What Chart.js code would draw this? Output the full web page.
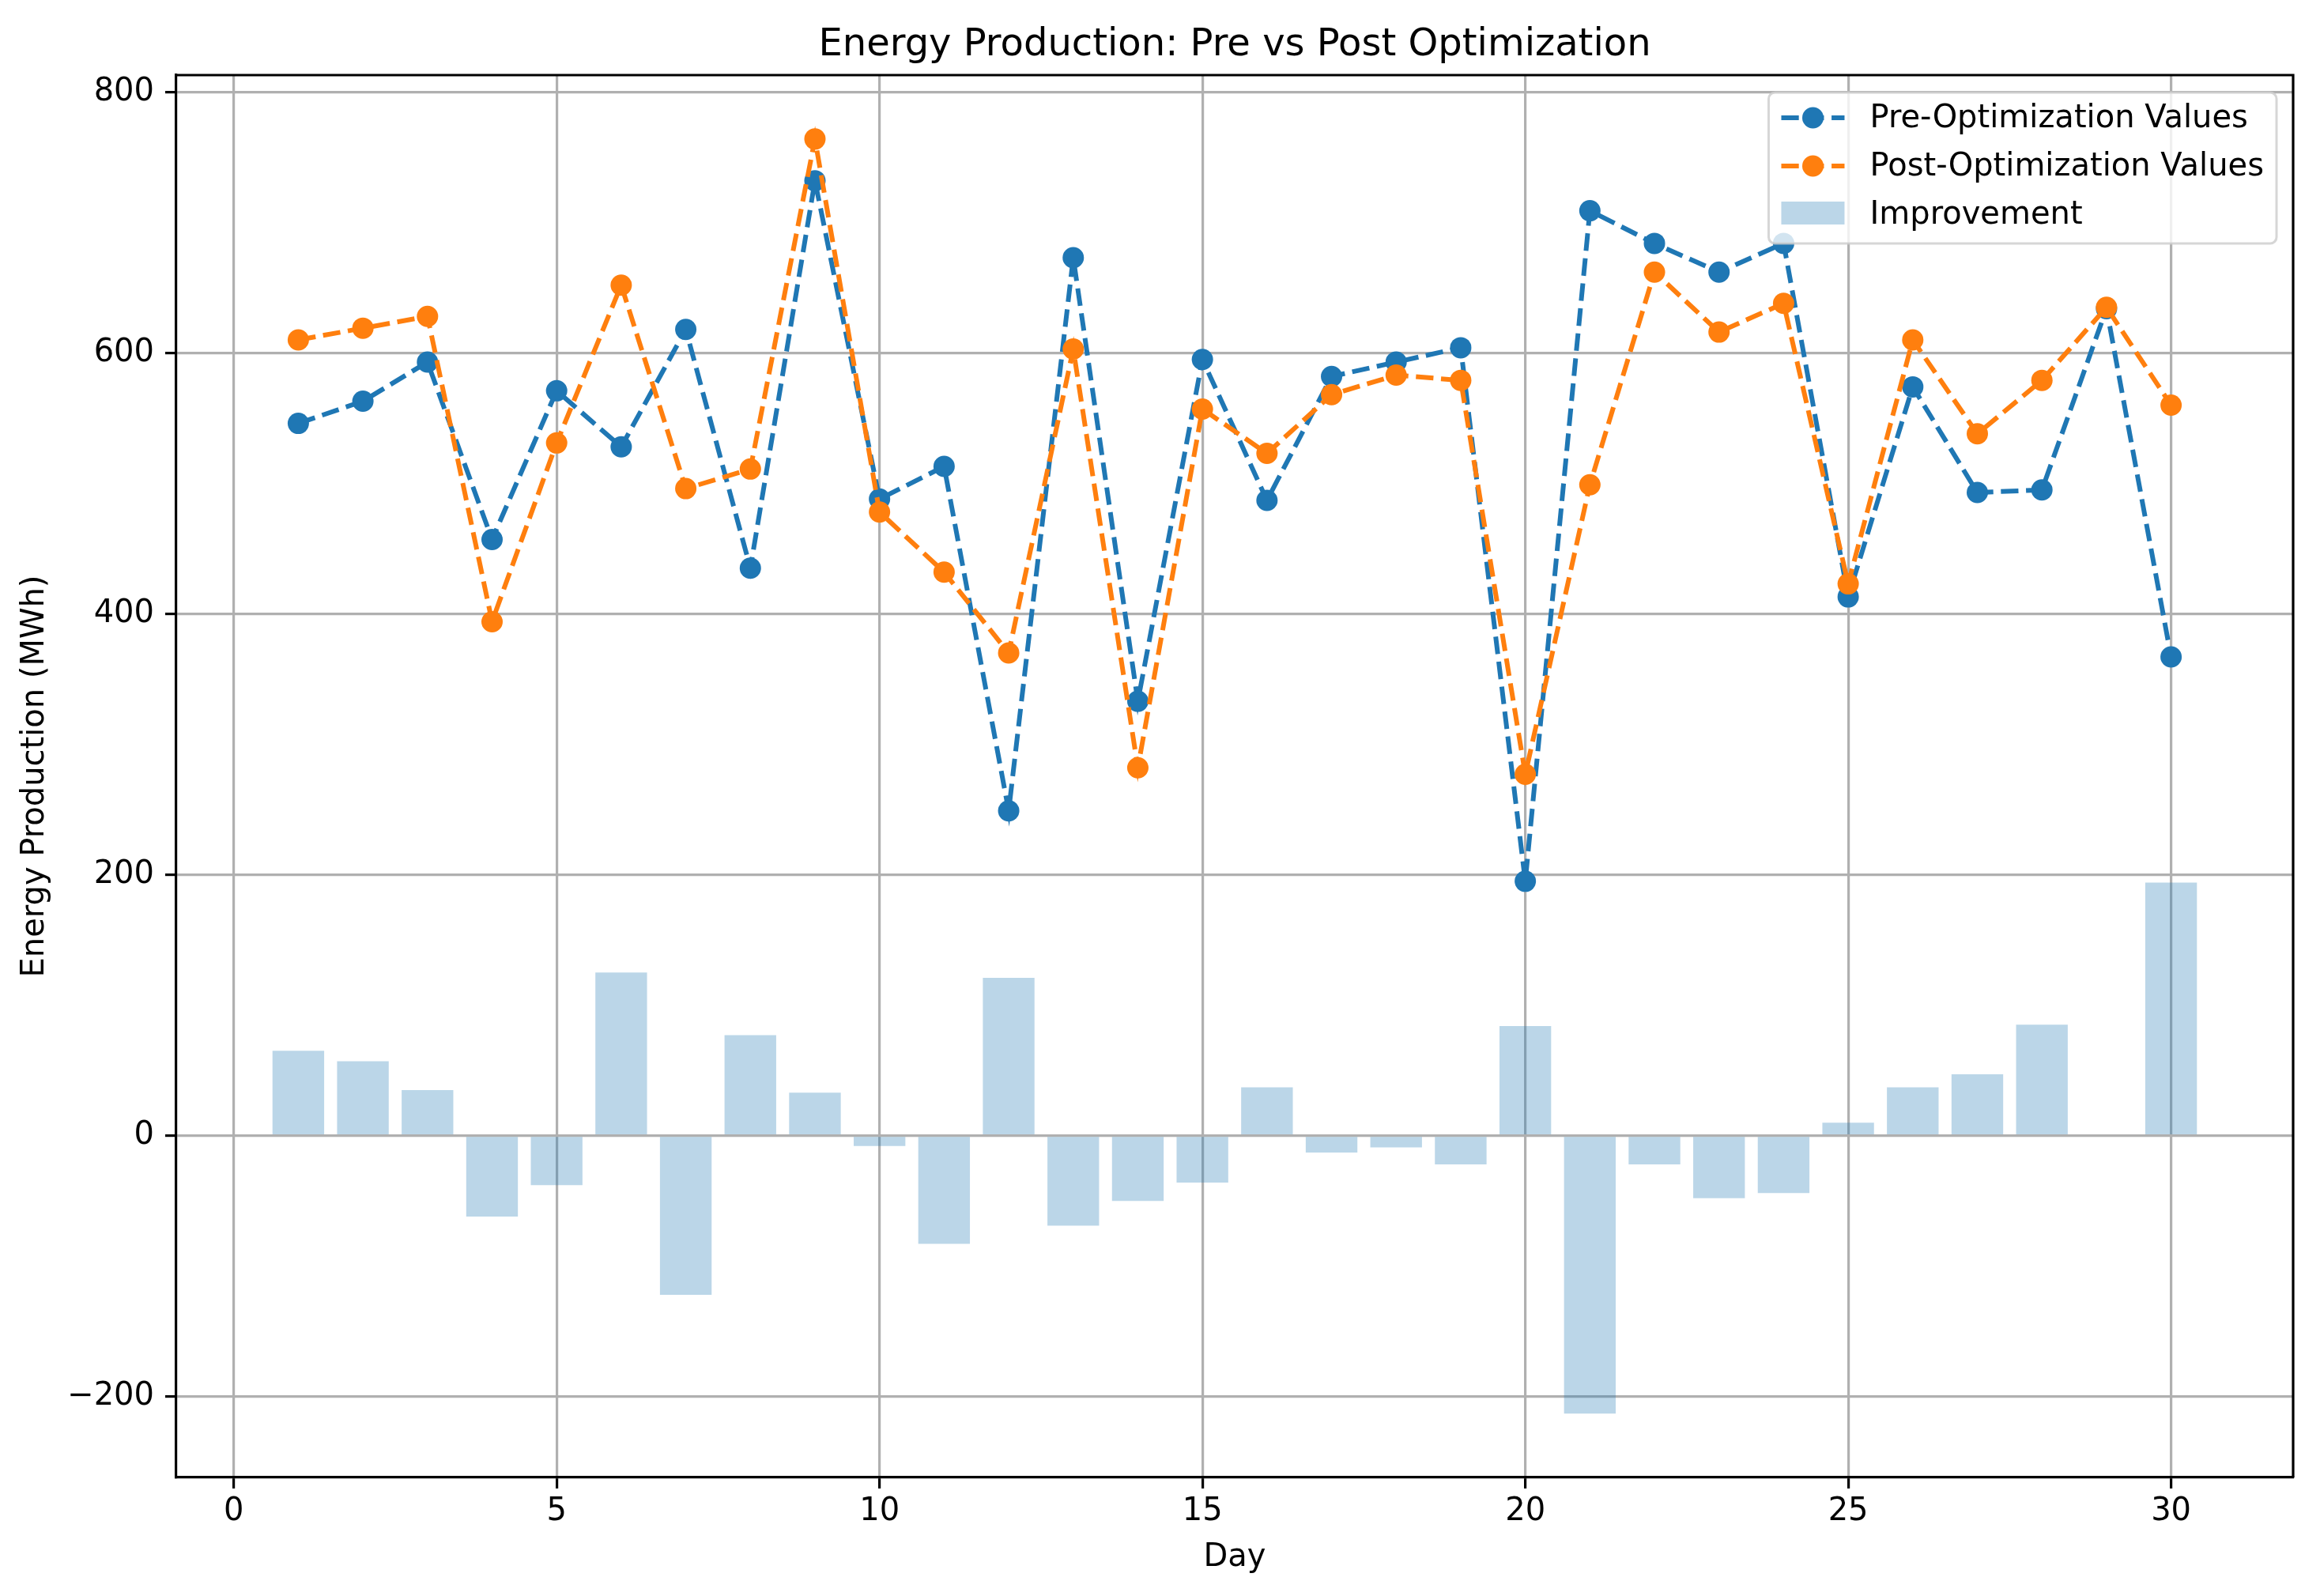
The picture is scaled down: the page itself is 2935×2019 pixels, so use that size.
<!DOCTYPE html>
<html>
<head>
<meta charset="utf-8">
<script src="https://cdn.jsdelivr.net/npm/chart.js@4.4.0/dist/chart.umd.min.js"></script>
<style>
html,body{margin:0;padding:0;background:#fff;}
canvas{display:block;}
</style>
</head>
<body>
<canvas id="c" width="2935" height="2019" style="width:2935px;height:2019px"></canvas>
<script>
// ---- data ----
const days = [1,2,3,4,5,6,7,8,9,10,11,12,13,14,15,16,17,18,19,20,21,22,23,24,25,26,27,28,29,30];
const preValues  = [546,563,593,457,571,528,618,435,732,488,513,249,673,333,595,487,582,593,604,195,709,684,662,684,413,574,493,495,634,367];
const postValues = [610,619,628,394,531,652,496,511,764,478,432,370,603,282,557,523,568,583,579,277,499,662,616,638,423,610,538,579,635,560];
const improvement = [65,57,35,-62,-38,125,-122,77,33,-8,-83,121,-69,-50,-36,37,-13,-9,-22,84,-213,-22,-48,-44,10,37,47,85,1,194];
const xTicks = [0,5,10,15,20,25,30];
const yTicks = [-200,0,200,400,600,800];
const chartTitle = 'Energy Production: Pre vs Post Optimization';
const xTitle = 'Day';
const yTitle = 'Energy Production (MWh)';
const seriesNames = ['Pre-Optimization Values','Post-Optimization Values','Improvement'];

// ---- styling ----
const FONT = "'DejaVu Sans', sans-serif";
const FS = 40;
const TFS = 48;
const BLUE = '#1f77b4', ORANGE = '#ff7f0e', BAR = 'rgba(31,119,180,0.3)';
const LW = 6, DASH = [22.2, 9.6], PR = 13.5;

Chart.defaults.font.family = FONT;
Chart.defaults.color = '#000';

const pts = (ys) => days.map((d, i) => ({x: d, y: ys[i]}));

const decorations = {
  id: 'decorations',
  afterDatasetsDraw(chart) {
    const {ctx, chartArea: a} = chart;
    ctx.save();
    // top & right spines
    ctx.strokeStyle = '#000';
    ctx.lineWidth = 3.2;
    ctx.beginPath();
    ctx.moveTo(a.left, a.top); ctx.lineTo(a.right, a.top); ctx.lineTo(a.right, a.bottom);
    ctx.stroke();

    // title centred over the plot area
    ctx.fillStyle = '#000';
    ctx.font = TFS + 'px ' + FONT;
    ctx.textAlign = 'center';
    ctx.textBaseline = 'alphabetic';
    ctx.fillText(chartTitle, (a.left + a.right) / 2, 70);

    // legend
    ctx.font = FS + 'px ' + FONT;
    const maxW = Math.max(...seriesNames.map(s => ctx.measureText(s).width));
    const pad = 16, hl = 80, tp = 32, rowGap = 61;
    const boxW = pad + hl + tp + maxW + pad;
    const boxH = 191;
    const bx = a.right - 21 - boxW, by = a.top + 22;
    ctx.fillStyle = 'rgba(255,255,255,0.8)';
    ctx.strokeStyle = 'rgba(204,204,204,0.8)';
    ctx.lineWidth = 3;
    ctx.beginPath();
    ctx.roundRect(bx, by, boxW, boxH, 8);
    ctx.fill(); ctx.stroke();

    const hx = bx + pad;
    const colors = [BLUE, ORANGE];
    for (let i = 0; i < 3; i++) {
      const cy = by + 32 + rowGap * i;
      if (i < 2) {
        ctx.strokeStyle = colors[i];
        ctx.lineWidth = LW;
        ctx.setLineDash(DASH);
        ctx.beginPath(); ctx.moveTo(hx, cy); ctx.lineTo(hx + hl, cy); ctx.stroke();
        ctx.setLineDash([]);
        ctx.fillStyle = colors[i];
        ctx.beginPath(); ctx.arc(hx + hl / 2, cy, PR, 0, Math.PI * 2); ctx.fill();
      } else {
        ctx.fillStyle = BAR;
        ctx.fillRect(hx, cy - 16, hl, 29);
      }
      ctx.fillStyle = '#000';
      ctx.textAlign = 'left';
      ctx.textBaseline = 'middle';
      ctx.fillText(seriesNames[i], hx + hl + tp, cy + 2);
    }
    ctx.restore();
  }
};

new Chart(document.getElementById('c'), {
  type: 'bar',
  data: {
    datasets: [
      {
        type: 'line', label: seriesNames[0], data: pts(preValues),
        borderColor: BLUE, backgroundColor: BLUE, borderWidth: LW, borderDash: DASH,
        pointRadius: PR, pointBackgroundColor: BLUE, pointBorderWidth: 0, pointHoverRadius: PR,
        tension: 0, fill: false, order: 2
      },
      {
        type: 'line', label: seriesNames[1], data: pts(postValues),
        borderColor: ORANGE, backgroundColor: ORANGE, borderWidth: LW, borderDash: DASH,
        pointRadius: PR, pointBackgroundColor: ORANGE, pointBorderWidth: 0, pointHoverRadius: PR,
        tension: 0, fill: false, order: 1
      },
      {
        type: 'bar', label: seriesNames[2], data: pts(improvement),
        backgroundColor: BAR, borderWidth: 0,
        barPercentage: 0.8, categoryPercentage: 1.0, order: 3
      }
    ]
  },
  options: {
    responsive: false,
    devicePixelRatio: 1,
    animation: false,
    layout: { padding: { left: 0, right: 34, top: 95, bottom: 0 } },
    plugins: {
      legend: { display: false },
      tooltip: { enabled: false },
      title: { display: false }
    },
    scales: {
      x: {
        type: 'linear', min: -0.89, max: 31.89, offset: false,
        afterBuildTicks: (s) => { s.ticks = xTicks.map(v => ({value: v})); },
        afterFit: (s) => { s.height = 150; },
        ticks: { font: { size: FS }, color: '#000', padding: 6, maxRotation: 0, autoSkip: false },
        grid: { color: '#b0b0b0', lineWidth: 3.2, tickColor: '#000', tickWidth: 3.2, tickLength: 14, offset: false },
        border: { display: true, color: '#000', width: 3.2 },
        title: { display: true, text: xTitle, color: '#000', font: { size: FS }, padding: { top: 24, bottom: 24 } }
      },
      y: {
        type: 'linear', min: -262, max: 813,
        afterBuildTicks: (s) => { s.ticks = yTicks.map(v => ({value: v})); },
        afterFit: (s) => { s.width = 223; },
        ticks: {
          font: { size: FS }, color: '#000', padding: 14,
          callback: (v) => String(v).replace('-', '\u2212')
        },
        grid: { color: '#b0b0b0', lineWidth: 3.2, tickColor: '#000', tickWidth: 3.2, tickLength: 14 },
        border: { display: true, color: '#000', width: 3.2 },
        title: { display: true, text: yTitle, color: '#000', font: { size: FS }, padding: { top: 21, bottom: 21 } }
      }
    }
  },
  plugins: [decorations]
});
</script>
</body>
</html>
